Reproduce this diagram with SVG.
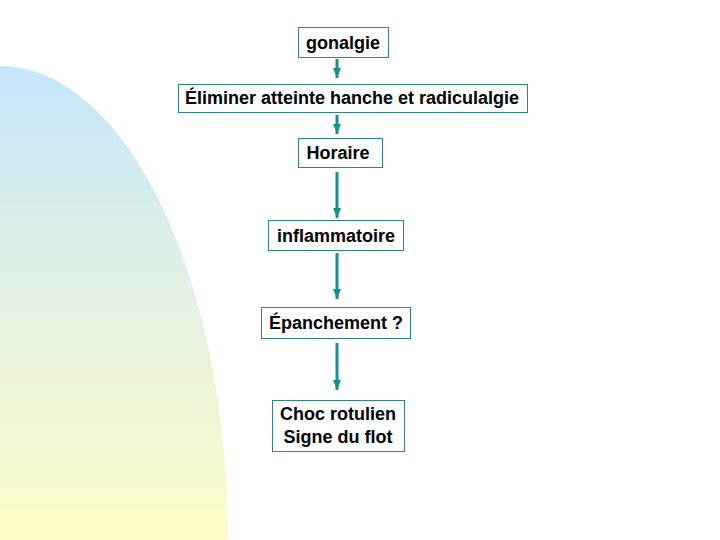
<svg xmlns="http://www.w3.org/2000/svg" width="720" height="540" viewBox="0 0 720 540">
<defs>
<linearGradient id="bg" x1="0" y1="0" x2="0" y2="1">
<stop offset="0" stop-color="#c6e6fb"/>
<stop offset="0.5" stop-color="#e4f2e2"/>
<stop offset="1" stop-color="#fefcc8"/>
</linearGradient>
<marker id="ah" viewBox="0 0 10 8" refX="10" refY="4" markerWidth="10" markerHeight="8" markerUnits="userSpaceOnUse" orient="auto">
<path d="M0,0 L10,4 L0,8 Z" fill="#1a9090"/>
</marker>
<style>
.box{fill:#ffffff;stroke:#2e8585;stroke-width:1}
.t{font-family:"Liberation Sans",Arial,sans-serif;font-weight:bold;font-size:18px;fill:#000;text-anchor:middle}
.c{stroke:#1a9090;stroke-width:3;fill:none;marker-end:url(#ah)}
</style>
</defs>
<rect width="720" height="540" fill="#ffffff"/>
<path d="M0,66 A228,474 0 0 1 228,540 L0,540 Z" fill="url(#bg)"/>
<g id="connectors">
<line class="c" x1="337" y1="59" x2="337" y2="78"/>
<line class="c" x1="337" y1="115" x2="337" y2="134"/>
<line class="c" x1="337" y1="172" x2="337" y2="218"/>
<line class="c" x1="337" y1="253" x2="337" y2="299"/>
<line class="c" x1="337" y1="343" x2="337" y2="390"/>
</g>
<g id="n1"><rect class="box" x="298.5" y="27.5" width="90" height="30"/><text class="t" x="343" y="49">gonalgie</text></g>
<g id="n2"><rect class="box" x="178.5" y="84.5" width="349" height="28"/><text class="t" x="352" y="104">Éliminer atteinte hanche et radiculalgie</text></g>
<g id="n3"><rect class="box" x="298.5" y="138.5" width="84" height="29"/><text class="t" x="338" y="159">Horaire</text></g>
<g id="n4"><rect class="box" x="268.5" y="220.5" width="135" height="30"/><text class="t" x="336" y="242">inflammatoire</text></g>
<g id="n5"><rect class="box" x="261.5" y="307.5" width="149" height="31"/><text class="t" x="336" y="329">Épanchement ?</text></g>
<g id="n6"><rect class="box" x="272.5" y="400.5" width="132" height="51"/><text class="t" x="338" y="420">Choc rotulien</text><text class="t" x="338" y="443">Signe du flot</text></g>
</svg>
